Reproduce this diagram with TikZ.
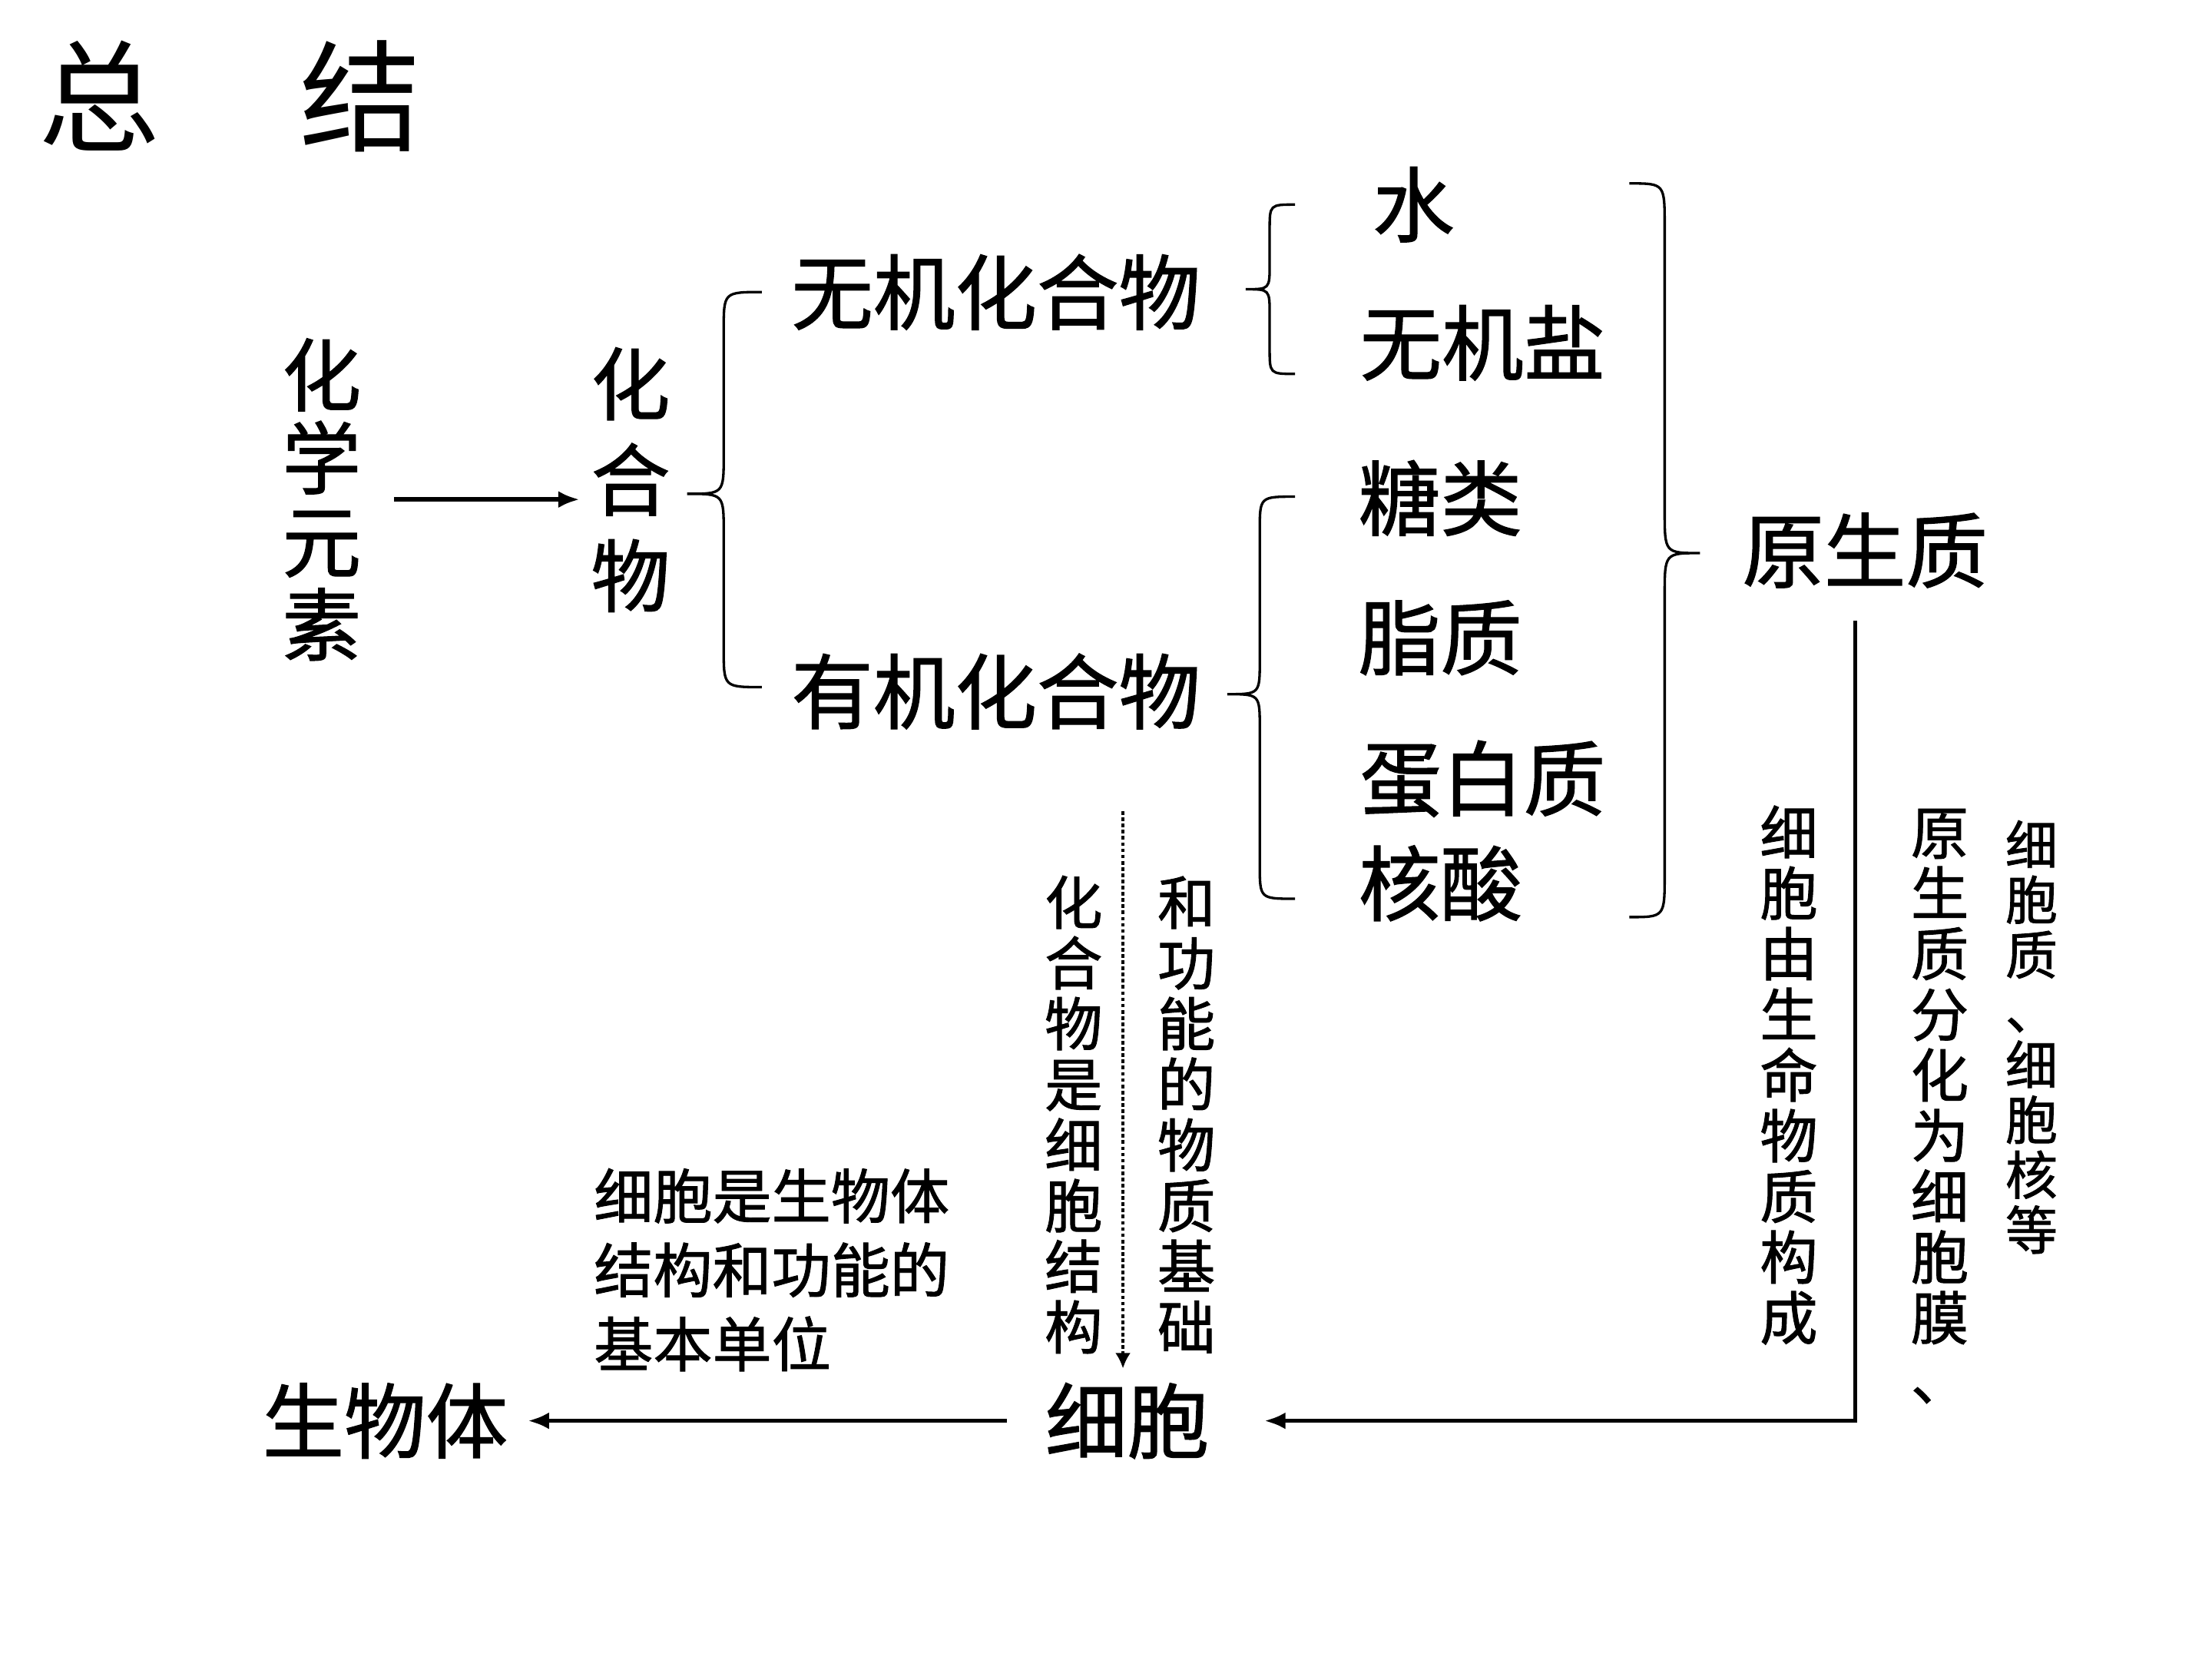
\documentclass[tikz,border=0pt]{standalone}
\usepackage{fontspec}
\newfontfamily\cjk{Noto Sans CJK SC}[FakeBold=1.2]
\newfontfamily\cjktitle{Noto Sans CJK SC}
\usetikzlibrary{arrows.meta}
\begin{document}
\begin{tikzpicture}[x=1pt,y=-1pt,
  titletext/.style={font=\cjktitle\fontsize{86}{86}\selectfont, inner sep=0pt},
  big/.style={font=\cjk\fontsize{58}{59}\selectfont, inner sep=0pt},
  vbig/.style={font=\cjk\fontsize{56}{59}\selectfont, inner sep=0pt, align=center},
  vbigwide/.style={font=\cjk\fontsize{56}{68}\selectfont, inner sep=0pt, align=center},
  small/.style={font=\cjk\fontsize{42}{52.5}\selectfont, inner sep=0pt, align=left},
  vsmall/.style={font=\cjk\fontsize{41}{43}\selectfont, inner sep=0pt, align=center},
  vsmaller/.style={font=\cjk\fontsize{37}{39}\selectfont, inner sep=0pt, align=center},
  bracepath/.style={line width=1.8pt},
  arr/.style={line width=3pt, -{Latex[length=15pt,width=12pt]}},
  dotarr/.style={line width=2.4pt, dash pattern=on 2.6pt off 1.8pt, -{Latex[length=11pt,width=11pt]}},
]
\useasboundingbox (0,0) rectangle (1568,1176);
\fill[white] (0,0) rectangle (1568,1176);

% title
\node[titletext] (title) at (163,68) {总\hspace{99pt}结};

% left column
\node[vbig] (yuansu) at (228,354) {化\\学\\元\\素};
\node[vbigwide] (hhw) at (447,340) {化\\合\\物};

% compounds
\node[big] (wuji) at (706,207) {无机化合物};
\node[big] (youji) at (706,490) {有机化合物};

% substances
\node[big] (shui) at (1002,145) {水};
\node[big] (yan) at (1051,243) {无机盐};
\node[big] (tang) at (1021,353) {糖类};
\node[big] (zhi) at (1021,452) {脂质};
\node[big] (dbz) at (1051,552) {蛋白质};
\node[big] (hs) at (1021,626) {核酸};

\node[big] (ysz) at (1322,390) {原生质};
\node[big] (xb) at (799,1007) {细胞};
\node[big] (swt) at (273,1007) {生物体};

% small texts
\node[small] (unit) at (547,900) {细胞是生物体\\结构和功能的\\基本单位};
\node[vsmall] (v1) at (761,790) {化\\合\\物\\是\\细\\胞\\结\\构};
\node[vsmall] (v2) at (841,790) {和\\功\\能\\的\\物\\质\\基\\础};
\node[vsmall] (v3) at (1268,762) {细\\胞\\由\\生\\命\\物\\质\\构\\成};
\node[vsmall] (v4) at (1375,784) {原\\生\\质\\分\\化\\为\\细\\胞\\膜\\、};
\node[vsmaller] (v5) at (1440,735) {细\\胞\\质\\、\\细\\胞\\核\\等};

% braces
\draw[bracepath] (540,207) .. controls (513,207) .. (513,234) -- (513,323)
  .. controls (513,350) .. (487,350) .. controls (513,350) .. (513,377)
  -- (513,460) .. controls (513,487) .. (540,487);
\draw[bracepath] (918,145) .. controls (900,145) .. (900,163) -- (900,187)
  .. controls (900,205) .. (883,205) .. controls (900,205) .. (900,223)
  -- (900,247) .. controls (900,265) .. (918,265);
\draw[bracepath] (918,352) .. controls (893,352) .. (893,376) -- (893,468)
  .. controls (893,492) .. (870,492) .. controls (893,492) .. (893,516)
  -- (893,613) .. controls (893,637) .. (918,637);
\draw[bracepath] (1155,130) .. controls (1180,130) .. (1180,160) -- (1180,362)
  .. controls (1180,392) .. (1205,392) .. controls (1180,392) .. (1180,422)
  -- (1180,620) .. controls (1180,650) .. (1155,650);

% connectors
\draw[arr, shorten <=23pt, shorten >=8pt] (yuansu.east) -- (yuansu.east -| hhw.west);
\draw[arr, shorten <=27pt, shorten >=14pt] (xb.west) -- (xb.west -| swt.east);
\coordinate (p0) at (1315,440);
\draw[arr, shorten >=39pt] (p0) |- (xb.east);
\coordinate (d0) at (796,575);
\draw[dotarr, shorten >=10pt] (d0) -- (d0 |- xb.north);
\end{tikzpicture}
\end{document}
